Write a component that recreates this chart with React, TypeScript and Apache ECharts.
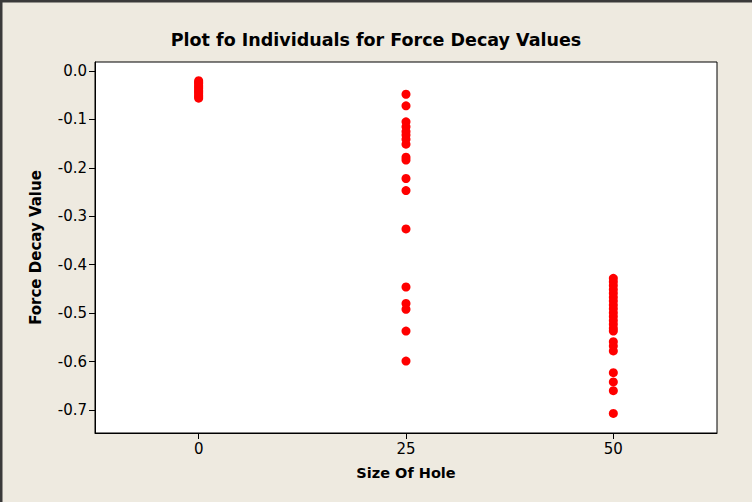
import React, { useEffect, useRef } from "react";
import * as echarts from "echarts";

const titleText = "Plot fo Individuals for Force Decay Values";
const xAxisName = "Size Of Hole";
const yAxisName = "Force Decay Value";

const holeSizes = [0, 25, 50];
const xTicks = [0, 25, 50];
const yTicks = [0, -0.1, -0.2, -0.3, -0.4, -0.5, -0.6, -0.7];

const group0 = [-0.02, -0.023, -0.026, -0.03, -0.033, -0.036, -0.04, -0.043, -0.046, -0.05, -0.053, -0.056];
const group25 = [
  -0.048, -0.072, -0.105, -0.115, -0.125, -0.132, -0.141, -0.151, -0.178, -0.184,
  -0.222, -0.247, -0.326, -0.446, -0.48, -0.492, -0.537, -0.599,
];
const group50 = [
  -0.428, -0.435, -0.443, -0.451, -0.459, -0.467, -0.475, -0.483, -0.491, -0.499,
  -0.507, -0.515, -0.523, -0.531, -0.537, -0.559, -0.568, -0.578, -0.623, -0.642,
  -0.66, -0.707,
];

const groups = [group0, group25, group50];

export default function App() {
  const ref = useRef<HTMLDivElement>(null);

  useEffect(() => {
    if (!ref.current) return;
    const chart = echarts.init(ref.current, undefined, { renderer: "svg" });
    const data: number[][] = [];
    groups.forEach((g, i) => g.forEach((v) => data.push([holeSizes[i], v])));

    const fontFamily = "'DejaVu Sans', Tahoma, sans-serif";

    chart.setOption({
      animation: false,
      backgroundColor: "#EEEAE0",
      title: {
        text: titleText,
        left: "center",
        top: 26,
        textStyle: { fontFamily, fontSize: 17.5, fontWeight: "bold", color: "#000" },
      },
      grid: {
        left: 95,
        top: 62,
        width: 622,
        height: 371,
        show: true,
        backgroundColor: "#ffffff",
        borderColor: "#000000",
        borderWidth: 1,
      },
      xAxis: {
        type: "value",
        min: -12.5,
        max: 62.5,
        name: xAxisName,
        nameLocation: "middle",
        nameGap: 32,
        nameTextStyle: { fontFamily, fontSize: 14.5, fontWeight: "bold", color: "#000" },
        axisLine: { show: true, onZero: false, lineStyle: { color: "#000", width: 1 } },
        axisTick: { show: true, length: 6, customValues: xTicks, lineStyle: { color: "#000" } },
        axisLabel: {
          customValues: xTicks,
          fontFamily,
          fontSize: 15,
          color: "#000",
          margin: 8,
        },
        splitLine: { show: false },
      },
      yAxis: {
        type: "value",
        min: -0.7475,
        max: 0.0186,
        name: yAxisName,
        nameLocation: "middle",
        nameRotate: 90,
        nameGap: 52,
        nameTextStyle: { fontFamily, fontSize: 15, fontWeight: "bold", color: "#000" },
        axisLine: { show: true, onZero: false, lineStyle: { color: "#000", width: 1 } },
        axisTick: { show: true, length: 6, customValues: yTicks, lineStyle: { color: "#000" } },
        axisLabel: {
          customValues: yTicks,
          formatter: (v: number) => v.toFixed(1),
          fontFamily,
          fontSize: 15,
          color: "#000",
          margin: 8,
        },
        splitLine: { show: false },
      },
      graphic: [
        { type: "line", shape: { x1: 0, y1: 1, x2: 752, y2: 1 }, style: { stroke: "#3a3a3a", lineWidth: 3 } },
        { type: "line", shape: { x1: 1, y1: 0, x2: 1, y2: 502 }, style: { stroke: "#3a3a3a", lineWidth: 3 } },
      ],
      series: [
        {
          type: "scatter",
          data,
          symbol: "circle",
          symbolSize: 9,
          itemStyle: { color: "#FF0000", opacity: 1 },
        },
      ],
    });
    return () => chart.dispose();
  }, []);

  return (
    <div
      ref={ref}
      style={{ position: "absolute", left: 0, top: 0, width: 752, height: 502 }}
    />
  );
}
